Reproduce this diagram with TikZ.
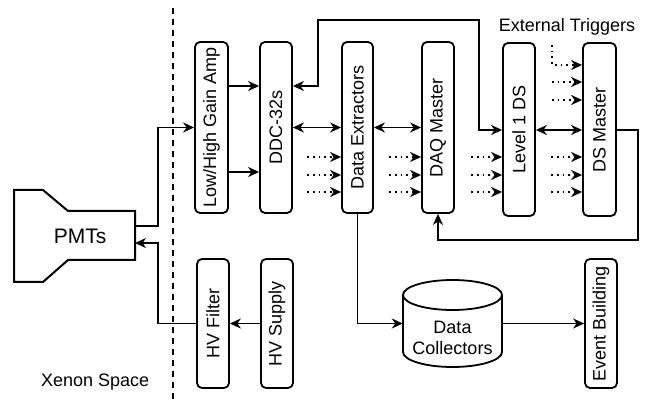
\documentclass[tikz,border=0pt]{standalone}
\usepackage{fontspec}
\setmainfont{Liberation Sans}
\usetikzlibrary{arrows.meta}
\tikzset{
  box/.style={draw, line width=1.8pt, rounded corners=5pt, minimum width=32pt, inner sep=0pt},
  vtext/.style={rotate=90, inner sep=0pt, font=\fontsize{18}{21}\selectfont},
  txt/.style={inner sep=0pt, font=\fontsize{18}{21}\selectfont},
  tip/.tip={Stealth[length=11pt,width=10pt,inset=3.5pt]},
  conn/.style={line width=1.7pt, -tip},
  bconn/.style={line width=1.7pt, tip-tip},
  dconn/.style={line width=1.7pt, dash pattern=on 1.7pt off 4pt, -tip},
}
\begin{document}
\begin{tikzpicture}[x=1pt,y=-1pt]
\useasboundingbox (0,0) rectangle (651,403);
% dashed divider
\draw[line width=2pt, dash pattern=on 6pt off 5pt] (173,8) -- (173,403);
% PMT shape
\draw[line width=2pt, line join=miter] (14,190) -- (43,190) -- (68,211) -- (135,211) -- (135,260) -- (68,260) -- (43,282) -- (14,282) -- cycle;
\node[txt, font=\fontsize{21}{24}\selectfont] (pmt) at (80,236) {PMTs};
\coordinate (pmt1) at (135,226);
\coordinate (pmt2) at (135,243);
% boxes
\node[box, minimum height=171pt, minimum width=33pt] (amp) at (211.5,127.5) {};
\node[vtext] (ampT) at (amp) {Low/High Gain Amp};
\node[box, minimum height=171pt] (ddc) at (276,127.5) {};
\node[vtext] (ddcT) at (ddc) {DDC-32s};
\node[box, minimum height=171pt, minimum width=31pt] (de) at (357.5,127.5) {};
\node[vtext] (deT) at (de) {Data Extractors};
\node[box, minimum height=171pt] (daq) at (438,127.5) {};
\node[vtext] (daqT) at (daq) {DAQ Master};
\node[box, minimum height=173pt] (l1) at (519,129.5) {};
\node[vtext] (l1T) at (l1) {Level 1 DS};
\node[box, minimum height=173pt, minimum width=33pt] (dsm) at (599.5,129.5) {};
\node[vtext] (dsmT) at (dsm) {DS Master};
\node[box, minimum height=129pt] (hvf) at (213,323.5) {};
\node[vtext] (hvfT) at (hvf) {HV Filter};
\node[box, minimum height=129pt] (hvs) at (277,323.5) {};
\node[vtext] (hvsT) at (hvs) {HV Supply};
\node[box, minimum height=129pt] (eb) at (601,323.5) {};
\node[vtext] (ebT) at (eb) {Event Building};
% Data collectors cylinder
\node[inner sep=0pt, minimum width=99pt, minimum height=87pt] (dc) at (452.5,323.5) {};
\draw[line width=1.8pt] (403,295) -- (403,352) arc[start angle=180, end angle=360, x radius=49.5pt, y radius=15pt] -- (502,295);
\draw[line width=1.8pt] (452.5,295) ellipse[x radius=49.5pt, y radius=15pt];
\node[txt, align=center] (dcT) at (452.5,338) {Data\\Collectors};
% labels
\node[txt, anchor=west] (xen) at (41,382) {Xenon Space};
\node[txt] (ext) at (567,27) {External Triggers};
% connectors
\draw[conn] (pmt1) -- (158,226) |- (amp.west);
\draw[conn] (hvf.west) -- (158,323.5) |- (pmt2);
\draw[conn] (hvs.west) -- (hvf.east);
\draw[conn] (amp.east |- 0,86) -- (ddc.west |- 0,86);
\draw[conn] (amp.east |- 0,172) -- (ddc.west |- 0,172);
\draw[bconn] (ddc.east |- 0,86) -- (318,86) -- (318,20) -- (479,20) -- (479,130) -- (l1.west |- 0,130);
\draw[bconn] (ddc.east) -- (de.west);
\draw[bconn] (de.east) -- (daq.west);
\draw[bconn] (l1.east |- 0,130) -- (dsm.west |- 0,130);
\draw[conn] (dsm.east |- 0,130) -- (638,130) -- (638,240) -| (daq.south);
\draw[conn] (de.south) |- (dc.west);
\draw[conn] (dc.east) -- (eb.west);
% dotted trigger inputs
\foreach \t/\o in {de/34, daq/32, l1/31, dsm/31}{
  \foreach \yy in {157,175,192}{
    \draw[dconn] (\t.west |- 0,\yy) ++(-\o,0) -- (\t.west |- 0,\yy);
  }
}
\draw[dconn] (552,45) -- (552,65) -- (dsm.west |- 0,65);
\draw[dconn] (552,82) -- (dsm.west |- 0,82);
\draw[dconn] (552,100) -- (dsm.west |- 0,100);
\end{tikzpicture}
\end{document}
